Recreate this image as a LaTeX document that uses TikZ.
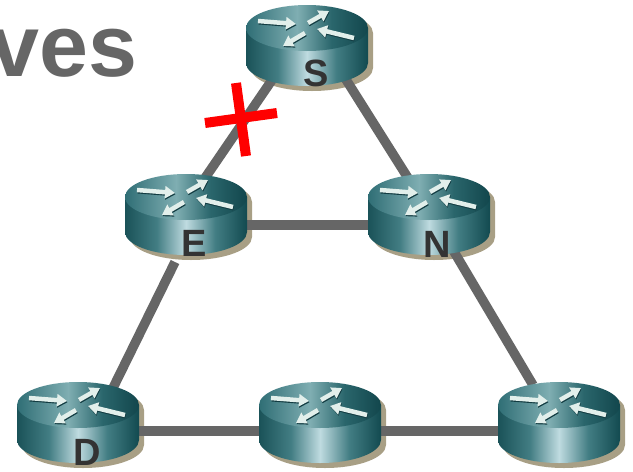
\documentclass[tikz,border=0pt]{standalone}
\usepackage{fontspec}
\setmainfont{Liberation Sans}
\usetikzlibrary{arrows.meta,calc}
\definecolor{linkgray}{HTML}{666666}
\definecolor{shadowtan}{HTML}{A89F85}
\definecolor{labelgray}{HTML}{333333}
\definecolor{sideA}{HTML}{1A5258}
\definecolor{sideB}{HTML}{427D83}
\definecolor{sideC}{HTML}{BFDBE0}
\definecolor{sideD}{HTML}{427D83}
\definecolor{sideE}{HTML}{124A50}
\definecolor{topA}{HTML}{2F6E75}
\definecolor{topB}{HTML}{7FAEB2}
\definecolor{topC}{HTML}{2A666C}
\definecolor{topD}{HTML}{12464C}
\definecolor{arrowlight}{HTML}{E2EFEB}
\definecolor{arrowdark}{HTML}{123C42}
\pgfdeclarehorizontalshading{routerside}{100bp}{
  color(0bp)=(sideA); color(25bp)=(sideA); color(38bp)=(sideB); color(50bp)=(sideC);
  color(62bp)=(sideD); color(75bp)=(sideE); color(100bp)=(sideE)}
\pgfdeclarehorizontalshading{routertop}{100bp}{
  color(0bp)=(topA); color(25bp)=(topA); color(46bp)=(topB);
  color(60bp)=(topC); color(75bp)=(topD); color(100bp)=(topD)}
\tikzset{
  routernode/.style={inner sep=0pt,minimum size=0pt},
  link/.style={draw=linkgray,line width=9.5pt},
  routerlabel/.style={text=labelgray,font=\fontsize{38}{38}\selectfont\bfseries,inner sep=0pt},
  heading/.style={text=linkgray,font=\fontsize{88}{88}\selectfont\bfseries,inner sep=0pt,anchor=base west},
  crossbar/.style={draw=red,line width=10pt},
  dirarrow/.style={line width=4.5pt,-{Triangle[length=10pt,width=12pt]}},
}
\newcommand{\routershadow}[1]{%
  \begin{scope}[shift={(#1)}]
    \fill[shadowtan] (-56,5) -- (-56,40) arc[start angle=180,end angle=0,x radius=61,y radius=23]
       -- (66,5) arc[start angle=0,end angle=-180,x radius=61,y radius=23] -- cycle;
  \end{scope}}
\newcommand{\dirpair}[2]{%
  \draw[dirarrow,arrowdark] ($(#1)+(0.6,1.2)$) -- ($(#2)+(0.6,1.2)$);
  \draw[dirarrow,arrowlight] (#1) -- (#2);}
\newcommand{\routerbody}[1]{%
  \begin{scope}[shift={(#1)}]
    \shade[shading=routerside] (-61,0) -- (-61,35) arc[start angle=180,end angle=0,x radius=61,y radius=23]
       -- (61,0) -- cycle;
    \shade[shading=routertop] (0,0) ellipse[x radius=61,y radius=23];
    \dirpair{-49,-7}{-11,-4}
    \dirpair{1,-5}{22,-17}
    \dirpair{47,10}{10,1}
    \dirpair{-2,5}{-24,18}
  \end{scope}}
\begin{document}
\begin{tikzpicture}[x=1pt,y=-1pt]
\useasboundingbox (0,0) rectangle (633,472);
\clip (0,0) rectangle (633,472);
\node[heading] (title) at (-10,76) {ves};
% router positions
\node[routernode] (S) at (307,28) {};
\node[routernode] (E) at (186,197) {};
\node[routernode] (N) at (429,197) {};
\node[routernode] (D) at (78,405) {};
\node[routernode] (M) at (320,405) {};
\node[routernode] (R) at (559,405) {};
\routershadow{S}\routershadow{E}\routershadow{N}\routershadow{D}\routershadow{M}\routershadow{R}
% links
\draw[link] ([shift={(-35,52)}]S.center) -- ([shift={(19,-19)}]E.center);
\draw[link] ([shift={(38,50)}]S.center) -- ([shift={(-21,-19)}]N.center);
\draw[link] ([shift={(50,28)}]E.center) -- ([shift={(-50,28)}]N.center);
\draw[link] ([shift={(-11,65)}]E.center) -- ([shift={(34,-15)}]D.center);
\draw[link] ([shift={(24,53)}]N.center) -- ([shift={(-26,-20)}]R.center);
\draw[link] ([shift={(50,26)}]D.center) -- ([shift={(-50,26)}]M.center);
\draw[link] ([shift={(50,26)}]M.center) -- ([shift={(-50,26)}]R.center);
\routerbody{S}\routerbody{E}\routerbody{N}\routerbody{D}\routerbody{M}\routerbody{R}
% labels
\node[routerlabel] (Slabel) at (316,73) {S};
\node[routerlabel] (Elabel) at (194,243) {E};
\node[routerlabel] (Nlabel) at (437,244) {N};
\node[routerlabel] (Dlabel) at (87,452) {D};
% red cross
\draw[crossbar] (205,123) -- (277,113);
\draw[crossbar] (236,83) -- (246,156);
\end{tikzpicture}
\end{document}
